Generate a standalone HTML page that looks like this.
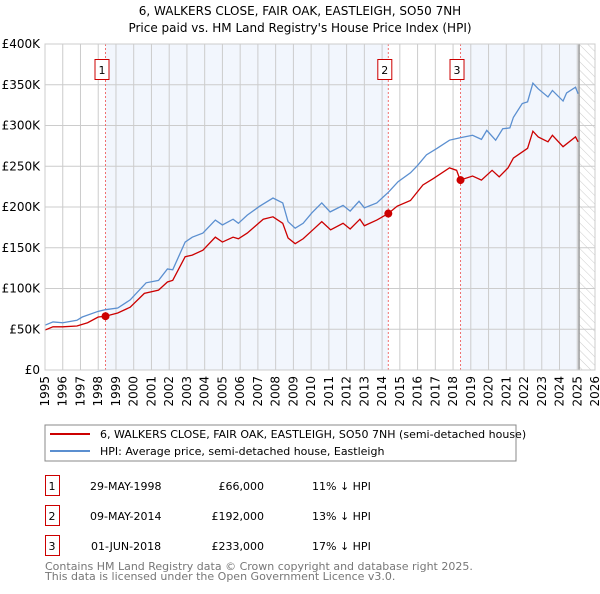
<!DOCTYPE html>
<html><head><meta charset="utf-8"><style>
body{margin:0;background:#fff;width:600px;height:590px;overflow:hidden;font-family:"DejaVu Sans","Liberation Sans",sans-serif}
svg text{font-family:"DejaVu Sans","Liberation Sans",sans-serif}
</style></head><body>
<svg id="c" width="600" height="590">
<defs><pattern id="hatch" width="6" height="6" patternUnits="userSpaceOnUse" patternTransform="rotate(-45)"><line x1="0" y1="0" x2="0" y2="6" stroke="#ccc" stroke-width="1"/></pattern></defs>
<text x="300" y="15" text-anchor="middle" font-size="12">6, WALKERS CLOSE, FAIR OAK, EASTLEIGH, SO50 7NH</text>
<text x="300" y="32" text-anchor="middle" font-size="12">Price paid vs. HM Land Registry's House Price Index (HPI)</text>
<g id="plot"></g>
<rect x="45" y="425" width="471" height="36" fill="#fff" stroke="#888"/>
<line x1="50" y1="434" x2="90" y2="434" stroke="#cc0000" stroke-width="2"/>
<text x="100" y="438" font-size="11">6, WALKERS CLOSE, FAIR OAK, EASTLEIGH, SO50 7NH (semi-detached house)</text>
<line x1="50" y1="451" x2="90" y2="451" stroke="#5b8fd0" stroke-width="2"/>
<text x="100" y="455" font-size="11">HPI: Average price, semi-detached house, Eastleigh</text>
<g font-size="11">
<rect x="45.5" y="475.5" width="14" height="20" fill="none" stroke="#cc0000"/><text x="52" y="490" text-anchor="middle">1</text>
<text x="90" y="490">29-MAY-1998</text><text x="264" y="490" text-anchor="end">£66,000</text><text x="312" y="490">11% ↓ HPI</text>
<rect x="45.5" y="505.5" width="14" height="20" fill="none" stroke="#cc0000"/><text x="52" y="520" text-anchor="middle">2</text>
<text x="90" y="520">09-MAY-2014</text><text x="264" y="520" text-anchor="end">£192,000</text><text x="312" y="520">13% ↓ HPI</text>
<rect x="45.5" y="535.5" width="14" height="20" fill="none" stroke="#cc0000"/><text x="52" y="550" text-anchor="middle">3</text>
<text x="91" y="550">01-JUN-2018</text><text x="264" y="550" text-anchor="end">£233,000</text><text x="312" y="550">17% ↓ HPI</text>
</g>
<text x="45" y="570" font-size="11" fill="#777">Contains HM Land Registry data © Crown copyright and database right 2025.</text>
<text x="45" y="580" font-size="11" fill="#777">This data is licensed under the Open Government Licence v3.0.</text>
</svg>
<script>
const hpiYears=[1995,1995.45,1996,1996.8,1997.1,1998,1998.4,1999.1,1999.8,2000.7,2001.4,2001.9,2002.2,2002.9,2003.3,2003.9,2004.6,2005,2005.6,2005.9,2006.4,2007.1,2007.85,2008.4,2008.7,2009.1,2009.55,2010.05,2010.6,2011.07,2011.8,2012.2,2012.7,2013,2013.7,2014.35,2014.9,2015.6,2016,2016.5,2017.1,2017.8,2018.4,2019.1,2019.6,2019.9,2020.4,2020.8,2021.2,2021.4,2021.9,2022.2,2022.5,2022.8,2023.35,2023.6,2024.2,2024.4,2024.9,2025.05];
const hpiValues=[55,59,58,61,65,72,74,76,86,107,110,124,123,157,163,168,184,178,185,180,190,201,211,205,182,174,180,193,205,194,202,195,207,199,205,218,231,242,251,264,272,282,285,288,283,294,282,296,297,310,327,329,352,345,335,343,330,340,347,339];
const priceYears=[1995,1995.45,1996,1996.8,1997.4,1998,1998.4,1999.1,1999.8,2000.6,2001.4,2001.9,2002.2,2002.9,2003.3,2003.9,2004.6,2005,2005.6,2005.9,2006.4,2007.3,2007.85,2008.4,2008.7,2009.1,2009.55,2010.1,2010.6,2011.1,2011.8,2012.2,2012.75,2013,2013.7,2014.35,2014.85,2015.6,2016.3,2016.9,2017.8,2018.2,2018.4,2019.1,2019.6,2020.2,2020.6,2021.1,2021.4,2022.2,2022.5,2022.8,2023.35,2023.6,2024.2,2024.9,2025.05];
const priceValues=[49,53,53,54,58,65,66,70,77,94,98,108,110,139,141,147,163,157,163,161,168,185,188,180,162,155,161,172,182,172,180,173,185,177,184,192,201,208,227,235,248,245,233,238,233,245,237,248,260,272,293,286,280,288,274,286,280];
const saleYears=[1998.41,2014.35,2018.42];
const saleValues=[66,192,233];
const saleLabels=["1","2","3"];
const yTicks=[0,50,100,150,200,250,300,350,400];
const yTickLabels=["£0","£50K","£100K","£150K","£200K","£250K","£300K","£350K","£400K"];
const xTicks=[1995,1996,1997,1998,1999,2000,2001,2002,2003,2004,2005,2006,2007,2008,2009,2010,2011,2012,2013,2014,2015,2016,2017,2018,2019,2020,2021,2022,2023,2024,2025,2026];
const X0=45,X1=595,Y0=370,Y1=44;
const xs=y=>X0+(y-1995)/31*(X1-X0);
const ys=v=>Y0-v/400*(Y0-Y1);
const NS='http://www.w3.org/2000/svg';
const g=document.getElementById('plot');
function mk(t,a){const e=document.createElementNS(NS,t);for(const k in a)e.setAttribute(k,a[k]);g.appendChild(e);return e;}
let e;
e=mk('rect',{x:xs(saleYears[0]),y:Y1,width:xs(saleYears[1])-xs(saleYears[0]),height:Y0-Y1,fill:'#f2f6fd'});


e=mk('rect',{x:xs(saleYears[2]),y:Y1,width:xs(2025.1)-xs(saleYears[2]),height:Y0-Y1,fill:'#f2f6fd'});


e=mk('rect',{x:xs(2025.1),y:Y1,width:X1-xs(2025.1),height:Y0-Y1,fill:'url(#hatch)'});


yTicks.forEach((v,i)=>{
 e=mk('line',{x1:X0,x2:X1,y1:ys(v),y2:ys(v),stroke:'#ccc'});
 
 
 e=mk('text',{x:40,y:ys(v)+4,'text-anchor':'end','font-size':12});
 
 
 e.textContent=yTickLabels[i];
});
xTicks.forEach(y=>{
 e=mk('line',{x1:xs(y),x2:xs(y),y1:Y1,y2:Y0,stroke:'#ccc'});
 
 
 e=mk('text',{x:0,y:0,'font-size':12,'text-anchor':'end',transform:`translate(${xs(y)+4},${Y0+6}) rotate(-90)`});
 
 
 e.textContent=y;
});
e=mk('line',{x1:xs(2025.1),x2:xs(2025.1),y1:Y1,y2:Y0,stroke:'#999','stroke-width':1.5});


saleYears.forEach((y,i)=>{
 e=mk('line',{x1:xs(y),x2:xs(y),y1:Y1,y2:Y0,stroke:'#f07070','stroke-dasharray':'2,2'});
 
 
 e=mk('rect',{x:xs(y)-10.5,y:59.5,width:14,height:20,fill:'#fff',stroke:'#cc0000'});
 
 
 e=mk('text',{x:xs(y)-3.5,y:74,'text-anchor':'middle','font-size':11});
 
 
 e.textContent=saleLabels[i];
});
e=mk('polyline',{points:hpiYears.map((y,i)=>xs(y)+','+ys(hpiValues[i])).join(' '),fill:'none',stroke:'#5b8fd0','stroke-width':1.3});


e=mk('polyline',{points:priceYears.map((y,i)=>xs(y)+','+ys(priceValues[i])).join(' '),fill:'none',stroke:'#cc0000','stroke-width':1.3});


saleYears.forEach((y,i)=>{
 e=mk('circle',{cx:xs(y),cy:ys(saleValues[i]),r:4,fill:'#cc0000'});
 
 
});
e=mk('rect',{x:X0,y:Y1,width:X1-X0,height:Y0-Y1,fill:'none',stroke:'#ccc'});


</script>
</body></html>
